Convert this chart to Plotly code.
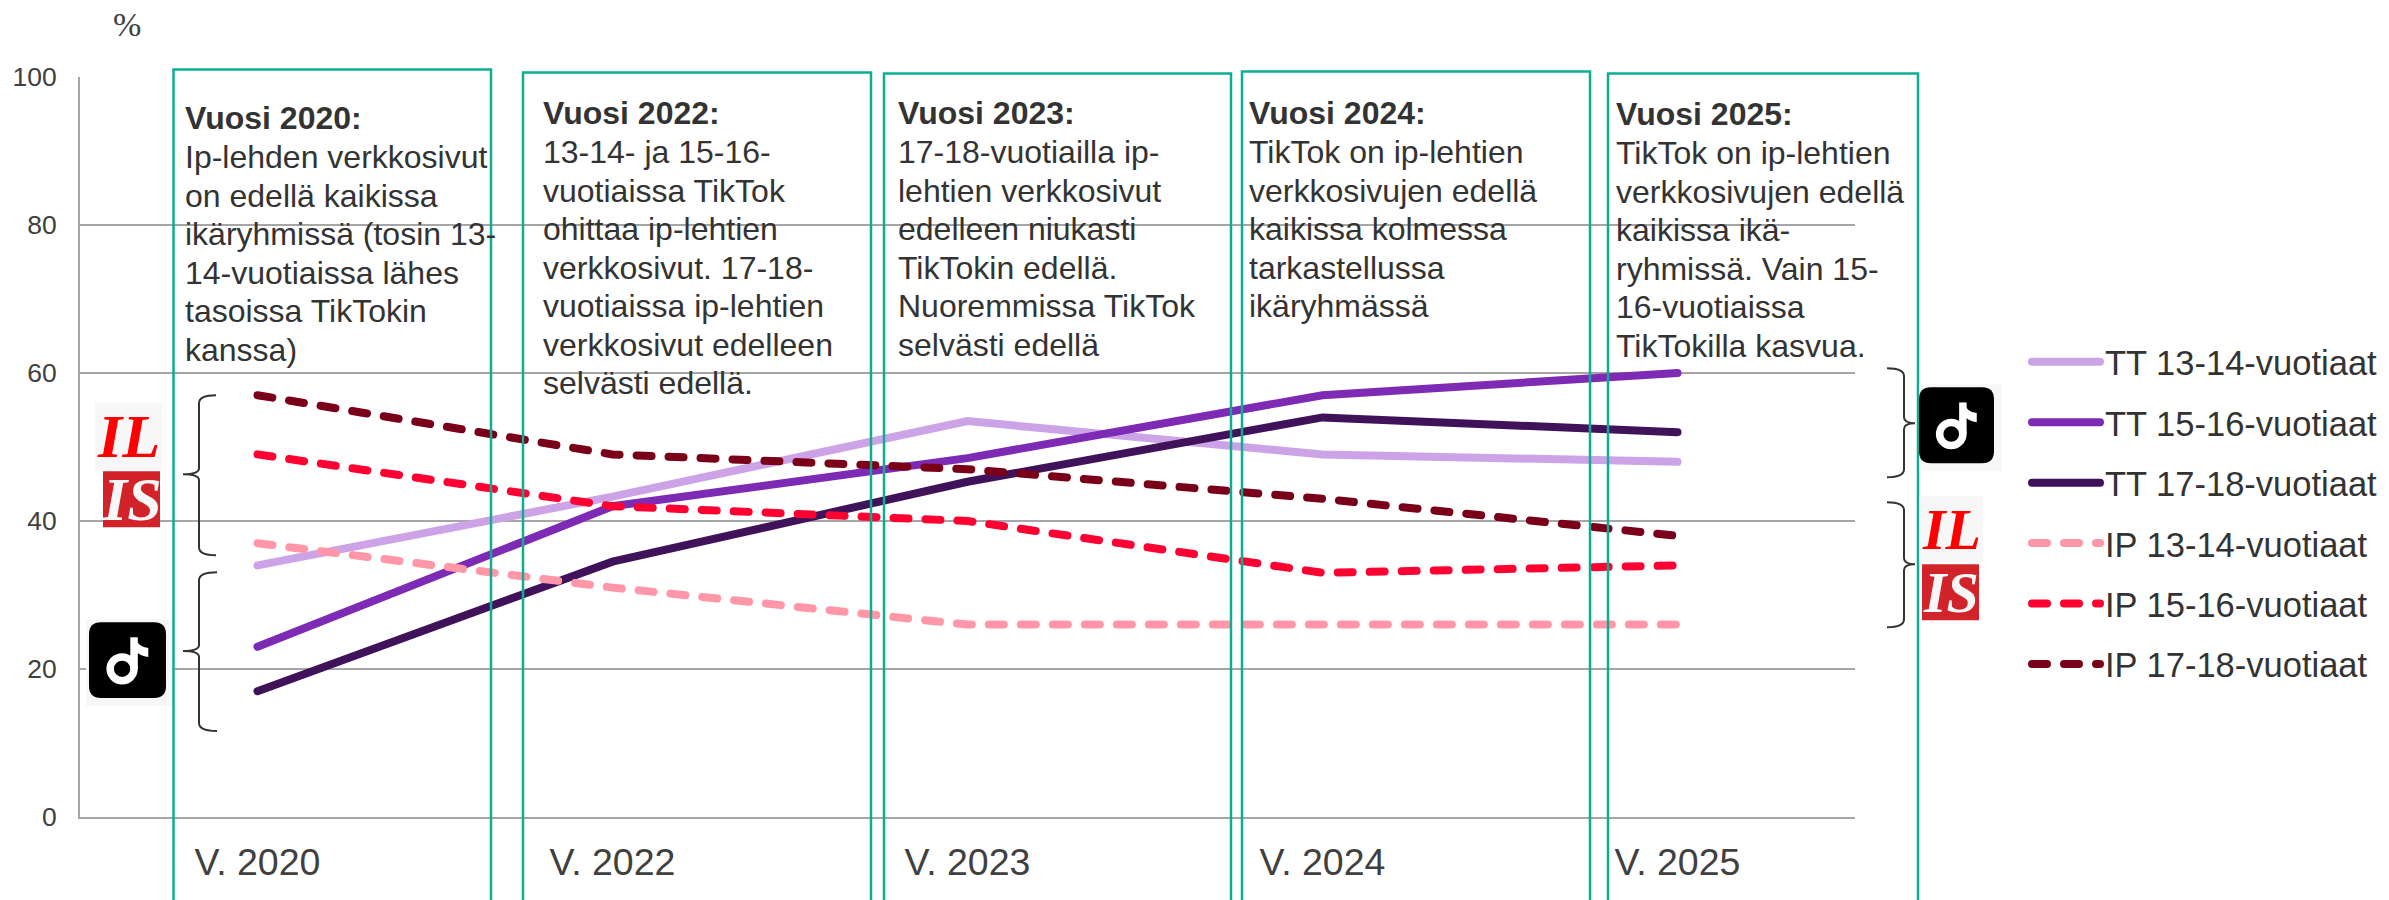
import plotly.graph_objects as go

W, H = 2389, 900
L, R, T, B = 80, 1855, 76.5, 817

categories = ["V. 2020", "V. 2022", "V. 2023", "V. 2024", "V. 2025"]
tt_13 = [34, 43.3, 53.5, 49, 48]
tt_15 = [23, 42, 48.5, 57, 60]
tt_17 = [17, 34.5, 45.3, 54, 52]
ip_13 = [37, 31, 26, 26, 26]
ip_15 = [49, 42, 40, 33, 34]
ip_17 = [57, 49, 47, 43, 38]

series = [
    ("TT 13-14-vuotiaat", tt_13, "#CDA3E8", "solid"),
    ("TT 15-16-vuotiaat", tt_15, "#7D2AB5", "solid"),
    ("TT 17-18-vuotiaat", tt_17, "#3F1259", "solid"),
    ("IP 13-14-vuotiaat", ip_13, "#FF97A8", "15px,17px"),
    ("IP 15-16-vuotiaat", ip_15, "#FF0033", "15px,17px"),
    ("IP 17-18-vuotiaat", ip_17, "#7A0019", "15px,17px"),
]

notes = [
    (185, 118, ["<b>Vuosi 2020:</b>", "Ip-lehden verkkosivut", "on edellä kaikissa", "ikäryhmissä (tosin 13-",
                "14-vuotiaissa lähes", "tasoissa TikTokin", "kanssa)"]),
    (543, 113, ["<b>Vuosi 2022:</b>", "13-14- ja 15-16-", "vuotiaissa TikTok", "ohittaa ip-lehtien",
                "verkkosivut. 17-18-", "vuotiaissa ip-lehtien", "verkkosivut edelleen", "selvästi edellä."]),
    (898, 113, ["<b>Vuosi 2023:</b>", "17-18-vuotiailla ip-", "lehtien verkkosivut", "edelleen niukasti",
                "TikTokin edellä.", "Nuoremmissa TikTok", "selvästi edellä"]),
    (1249, 113, ["<b>Vuosi 2024:</b>", "TikTok on ip-lehtien", "verkkosivujen edellä", "kaikissa kolmessa",
                 "tarkastellussa", "ikäryhmässä"]),
    (1616, 114, ["<b>Vuosi 2025:</b>", "TikTok on ip-lehtien", "verkkosivujen edellä", "kaikissa ikä-",
                 "ryhmissä. Vain 15-", "16-vuotiaissa", "TikTokilla kasvua."]),
]

TEAL = "#0CAE92"
teal_boxes = [(173.5, 491, 69), (523, 871, 72), (884, 1231, 73), (1242, 1590, 71), (1608, 1918, 73)]
white_boxes = [(184, 529, 92, 369), (543, 884, 92, 400), (898, 1225, 92, 369), (1249, 1591, 92, 369), (1614, 1900, 92, 369)]


def px(x):
    return (x - L) / (R - L)


def py(y):
    return (B - y) / (B - T)


def dx(x):
    return (x - L) / (R - L) * 5 - 0.5


def dy(y):
    return (B - y) / (B - T) * 100


fig = go.Figure()
for i, (name, vals, col, dash) in enumerate(series):
    fig.add_trace(go.Scatter(x=categories, y=vals, name=name, mode="lines", legendgroup=name,
                             line=dict(color=col, width=8, dash=dash)))

shapes = []
annos = []

for x0, x1, y0, y1 in white_boxes:
    shapes.append(dict(type="rect", xref="x", yref="y", x0=dx(x0), x1=dx(x1), y0=dy(y0), y1=dy(y1),
                       fillcolor="white", line_width=0, layer="below"))
for x0, x1, y0 in teal_boxes:
    shapes.append(dict(type="rect", xref="paper", yref="paper", x0=px(x0), x1=px(x1), y0=py(y0), y1=py(930),
                       line=dict(color=TEAL, width=2.5), layer="above"))


def rect(x0, x1, y0, y1, fill, radius=0):
    if radius:
        r = radius
        d = (f"M{px(x0+r)},{py(y0)} L{px(x1-r)},{py(y0)} Q{px(x1)},{py(y0)} {px(x1)},{py(y0+r)} "
             f"L{px(x1)},{py(y1-r)} Q{px(x1)},{py(y1)} {px(x1-r)},{py(y1)} "
             f"L{px(x0+r)},{py(y1)} Q{px(x0)},{py(y1)} {px(x0)},{py(y1-r)} "
             f"L{px(x0)},{py(y0+r)} Q{px(x0)},{py(y0)} {px(x0+r)},{py(y0)} Z")
        shapes.append(dict(type="path", xref="paper", yref="paper", path=d, fillcolor=fill, line_width=0, layer="above"))
    else:
        shapes.append(dict(type="rect", xref="paper", yref="paper", x0=px(x0), x1=px(x1), y0=py(y0), y1=py(y1),
                           fillcolor=fill, line_width=0, layer="above"))


def tiktok(bg, blk):
    rect(*bg, "#F7F7F7")
    rect(*blk, "#000000", radius=12)
    x0, x1, y0, y1 = blk
    w, h = x1 - x0, y1 - y0
    cx, cy, r = x0 + 0.43 * w, y0 + 0.615 * h, 0.155 * w
    shapes.append(dict(type="circle", xref="paper", yref="paper", x0=px(cx - r), x1=px(cx + r), y0=py(cy - r), y1=py(cy + r),
                       line=dict(color="white", width=7.5), fillcolor="rgba(0,0,0,0)", layer="above"))
    sx = cx + r
    stem = f"M{px(sx)},{py(y0+0.2*h)} L{px(sx)},{py(cy)}"
    shapes.append(dict(type="path", xref="paper", yref="paper", path=stem, line=dict(color="white", width=7.5), layer="above"))
    flag = (f"M{px(sx)},{py(y0+0.19*h)} Q{px(sx+4)},{py(y0+0.33*h)} {px(x0+0.77*w)},{py(y0+0.34*h)} "
            f"L{px(x0+0.77*w)},{py(y0+0.46*h)} Q{px(sx+6)},{py(y0+0.45*h)} {px(sx)},{py(y0+0.36*h)} Z")
    shapes.append(dict(type="path", xref="paper", yref="paper", path=flag, fillcolor="white", line_width=0, layer="above"))


def logo_text(x, y, s, col, size):
    annos.append(dict(xref="paper", yref="paper", x=px(x), y=py(y), text=f"<b><i>{s}</i></b>", showarrow=False,
                      xanchor="center", yanchor="middle", font=dict(family="Liberation Serif", size=size, color=col)))


def iltasanomat(il_bg, is_bg, size):
    rect(*il_bg, "#F7F7F7")
    logo_text((il_bg[0] + il_bg[1]) / 2, (il_bg[2] + il_bg[3]) / 2, "IL", "#FF0000", size)
    rect(*is_bg, "#D2232A")
    logo_text((is_bg[0] + is_bg[1]) / 2, (is_bg[2] + is_bg[3]) / 2, "IS", "#F7F7F7", size)


tiktok((86, 172, 619, 706), (89, 166, 622, 698))
tiktok((1919, 2002, 384, 471), (1919, 1994, 387, 463))
iltasanomat((95, 162, 402, 470), (103, 160, 471, 527), 62)
iltasanomat((1919, 1983, 496, 562), (1922, 1979, 564, 620), 58)


def brace(end, spine, tip, top, mid, bot):
    d = (f"M{px(end)},{py(top)} Q{px(spine)},{py(top)} {px(spine)},{py(top+8)} L{px(spine)},{py(mid-6)} "
         f"Q{px(spine)},{py(mid)} {px(tip)},{py(mid)} Q{px(spine)},{py(mid)} {px(spine)},{py(mid+6)} "
         f"L{px(spine)},{py(bot-8)} Q{px(spine)},{py(bot)} {px(end)},{py(bot)}")
    shapes.append(dict(type="path", xref="paper", yref="paper", path=d, line=dict(color="#333333", width=2), layer="above"))


brace(216, 199, 183, 395, 474, 555)
brace(217, 199, 183, 572, 651, 731)
brace(1887, 1904, 1915, 368, 423, 477)
brace(1887, 1904, 1915, 502, 564, 627)

SPACING = 38.6
for x, y, lines in notes:
    for k, line in enumerate(lines):
        annos.append(dict(xref="paper", yref="paper", x=px(x), y=py(y + k * SPACING), text=line, showarrow=False,
                          xanchor="left", yanchor="middle", xshift=-2,
                          font=dict(family="Liberation Sans", size=32, color="#333333")))

annos.append(dict(xref="paper", yref="paper", x=px(127), y=py(24), text="%", showarrow=False,
                  xanchor="center", yanchor="middle", font=dict(family="Liberation Serif", size=34, color="#404040")))

fig.update_layout(
    width=W, height=H, autosize=False,
    margin=dict(l=L, r=W - R, t=T, b=H - B, pad=0, autoexpand=False),
    paper_bgcolor="white", plot_bgcolor="white",
    font=dict(family="Liberation Sans", color="#404040"),
    shapes=shapes, annotations=annos,
    legend=dict(x=px(2027), y=py(332.5), xanchor="left", yanchor="top", traceorder="grouped",
                tracegroupgap=12.6, itemwidth=68, bgcolor="rgba(0,0,0,0)", borderwidth=0,
                font=dict(size=34.5, color="#333333", family="Liberation Sans")),
    xaxis=dict(type="category", range=[-0.5, 4.5], showgrid=False, showline=True, linecolor="#A6A6A6", linewidth=2,
               ticks="", tickfont=dict(size=37.5, color="#404040"), ticklabelstandoff=11),
    yaxis=dict(range=[0, 100], tickvals=[0, 20, 40, 60, 80, 100], showgrid=True, gridcolor="#A6A6A6", gridwidth=2,
               showline=True, linecolor="#A6A6A6", linewidth=2, zeroline=False, ticks="",
               tickfont=dict(size=26.5, color="#404040"), ticklabelstandoff=16),
)

post = ("document.body.style.margin='0';document.documentElement.style.overflow='hidden';"
        "document.querySelectorAll('.js-line').forEach(function(p){p.style.strokeLinecap='round';});")
fig.write_html("out.html", post_script=post, config=dict(displayModeBar=False))
